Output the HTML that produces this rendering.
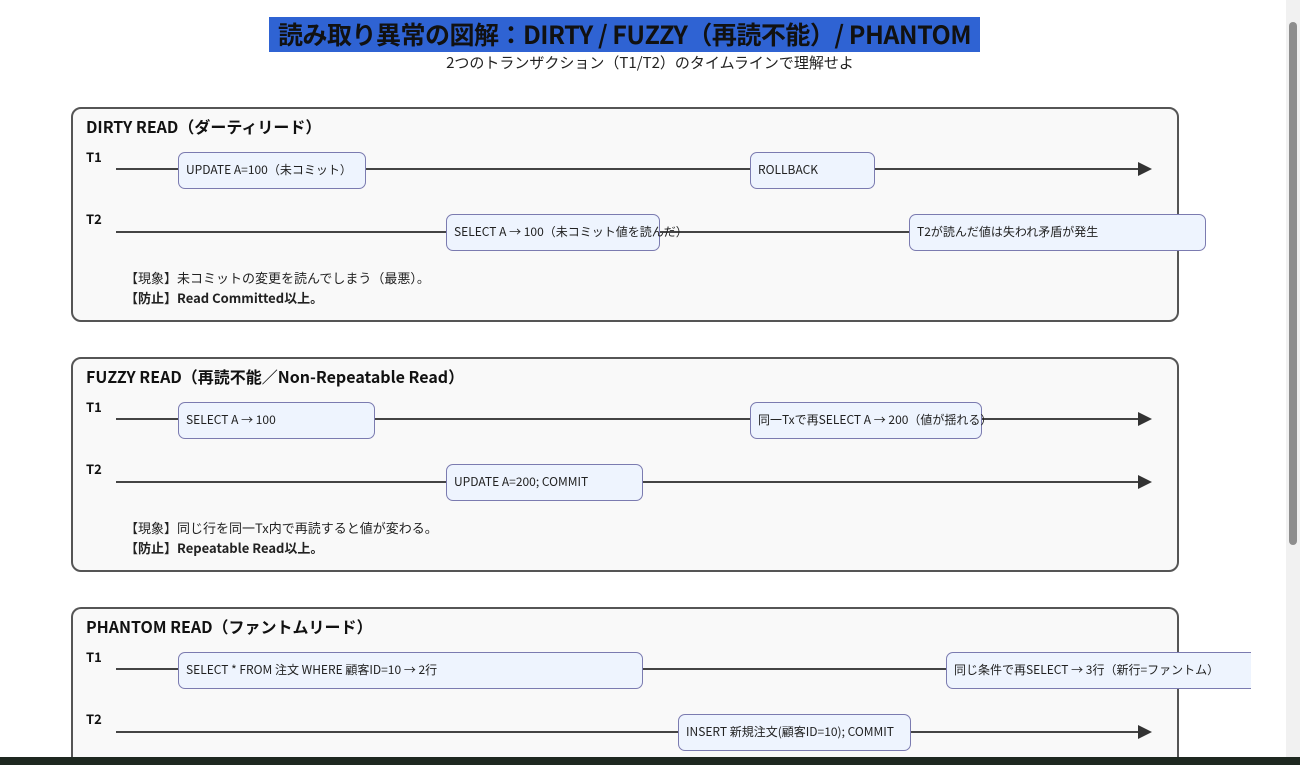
<!DOCTYPE html>
<html><head><meta charset="utf-8"><style>
*{box-sizing:border-box;margin:0;padding:0}
html,body{width:1300px;height:765px;overflow:hidden}
body{background:#fff;position:relative;font-family:"Noto Sans CJK JP","Liberation Sans",sans-serif;color:#111}
.a{position:absolute;white-space:nowrap}
.title{left:269px;top:17px;height:35px;width:711px;background:#2f63d3;font-size:25px;font-weight:bold;line-height:35px;text-align:center;letter-spacing:-0.5px}
.sub{left:0;width:1300px;text-align:center;top:52px;font-size:15px;color:#222;line-height:22px}
.box{left:71px;width:1108px;height:215px;border:2px solid #555;border-radius:10px;background:#f9f9f9}
.h{left:86px;font-size:16px;font-weight:bold;line-height:20px}
.t{left:86px;font-size:13px;font-weight:bold;line-height:18px}
.ln{left:116px;width:1030px;height:2px;background:#444}
.ar{width:0;height:0;border-left:14px solid #333;border-top:7px solid transparent;border-bottom:7px solid transparent}
.n{height:37px;border:1.5px solid #7b7bb0;border-radius:7px;background:#eef4fe;font-size:12px;line-height:33px;padding-left:7px;color:#222;overflow:visible}
.nt{font-size:13px;left:125px;color:#222;line-height:18px}
.b{font-weight:bold}
</style></head><body>
<div class="a title">読み取り異常の図解：DIRTY / FUZZY（再読不能）/ PHANTOM</div>
<div class="a sub">2つのトランザクション（T1/T2）のタイムラインで理解せよ</div>

<div class="a box" style="top:107px"></div>
<div class="a h" style="top:116px">DIRTY READ（ダーティリード）</div>
<div class="a t" style="top:148px">T1</div><div class="a t" style="top:210px">T2</div>
<div class="a ln" style="top:168px"></div><div class="a ar" style="left:1138px;top:162px"></div>
<div class="a ln" style="top:231px;width:1090px"></div>
<div class="a n" style="left:178px;top:152px;width:188px">UPDATE A=100（未コミット）</div>
<div class="a n" style="left:750px;top:152px;width:125px">ROLLBACK</div>
<div class="a n" style="left:446px;top:214px;width:214px">SELECT A → 100（未コミット値を読んだ）</div>
<div class="a n" style="left:909px;top:214px;width:297px">T2が読んだ値は失われ矛盾が発生</div>
<div class="a nt" style="top:269px">【現象】未コミットの変更を読んでしまう（最悪）。</div>
<div class="a nt b" style="top:289px">【防止】Read Committed以上。</div>

<div class="a box" style="top:357px"></div>
<div class="a h" style="top:366px">FUZZY READ（再読不能／Non-Repeatable Read）</div>
<div class="a t" style="top:398px">T1</div><div class="a t" style="top:460px">T2</div>
<div class="a ln" style="top:418px"></div><div class="a ar" style="left:1138px;top:412px"></div>
<div class="a ln" style="top:481px"></div><div class="a ar" style="left:1138px;top:475px"></div>
<div class="a n" style="left:178px;top:402px;width:197px">SELECT A → 100</div>
<div class="a n" style="left:750px;top:402px;width:232px">同一Txで再SELECT A → 200（値が揺れる）</div>
<div class="a n" style="left:446px;top:464px;width:197px">UPDATE A=200; COMMIT</div>
<div class="a nt" style="top:519px">【現象】同じ行を同一Tx内で再読すると値が変わる。</div>
<div class="a nt b" style="top:539px">【防止】Repeatable Read以上。</div>

<div class="a box" style="top:607px;height:160px;border-bottom:none;border-radius:10px 10px 0 0"></div>
<div class="a h" style="top:616px">PHANTOM READ（ファントムリード）</div>
<div class="a t" style="top:648px">T1</div><div class="a t" style="top:710px">T2</div>
<div class="a ln" style="top:668px;width:840px"></div>
<div class="a ln" style="top:731px"></div><div class="a ar" style="left:1138px;top:725px"></div>
<div class="a n" style="left:178px;top:652px;width:465px">SELECT * FROM 注文 WHERE 顧客ID=10 → 2行</div>
<div class="a n" style="left:946px;top:652px;width:330px">同じ条件で再SELECT → 3行（新行=ファントム）</div>
<div class="a n" style="left:678px;top:714px;width:233px">INSERT 新規注文(顧客ID=10); COMMIT</div>

<div class="a" style="left:1251px;top:0;width:49px;height:765px;background:#fff"></div>
<div class="a" style="left:1286px;top:0;width:14px;height:765px;background:#f1f1f1"></div>
<div class="a" style="left:1289px;top:22px;width:8px;height:523px;background:#8e8e8e;border-radius:4px"></div>
<div class="a" style="left:0;top:757px;width:1300px;height:8px;background:#1e2820"></div>
</body></html>
